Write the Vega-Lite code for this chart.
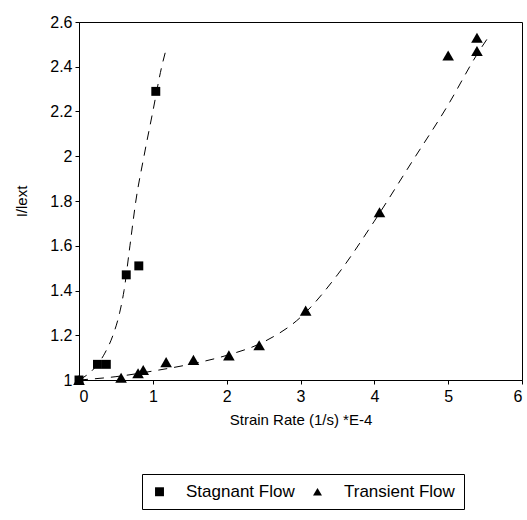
{
  "$schema": "https://vega.github.io/schema/vega-lite/v6.json",
  "width": 443,
  "height": 358,
  "autosize": {"type": "none"},
  "padding": {"left": 79, "top": 22, "right": 5, "bottom": 140},
  "background": "white",
  "config": {
    "font": "Liberation Sans",
    "view": {"stroke": "black", "strokeWidth": 1},
    "axis": {
      "domainColor": "black",
      "tickColor": "black",
      "labelColor": "black",
      "titleColor": "black",
      "labelFont": "Liberation Sans",
      "titleFont": "Liberation Sans",
      "labelFontSize": 16,
      "titleFontSize": 15,
      "titleFontWeight": "normal",
      "grid": false,
      "tickSize": 4
    },
    "legend": {
      "labelFont": "Liberation Sans",
      "labelFontSize": 17,
      "labelColor": "black"
    }
  },
  "datasets": {
    "obs": [
      {"series": "Stagnant Flow", "x": 0.0, "y": 1.0},
      {"series": "Stagnant Flow", "x": 0.25, "y": 1.07},
      {"series": "Stagnant Flow", "x": 0.37, "y": 1.07},
      {"series": "Stagnant Flow", "x": 0.64, "y": 1.47},
      {"series": "Stagnant Flow", "x": 0.81, "y": 1.51},
      {"series": "Stagnant Flow", "x": 1.04, "y": 2.29},
      {"series": "Transient Flow", "x": 0.0, "y": 1.0},
      {"series": "Transient Flow", "x": 0.57, "y": 1.01},
      {"series": "Transient Flow", "x": 0.8, "y": 1.03},
      {"series": "Transient Flow", "x": 0.87, "y": 1.045},
      {"series": "Transient Flow", "x": 1.18, "y": 1.08},
      {"series": "Transient Flow", "x": 1.55, "y": 1.09},
      {"series": "Transient Flow", "x": 2.03, "y": 1.11},
      {"series": "Transient Flow", "x": 2.44, "y": 1.155},
      {"series": "Transient Flow", "x": 3.07, "y": 1.31},
      {"series": "Transient Flow", "x": 4.07, "y": 1.75},
      {"series": "Transient Flow", "x": 5.0, "y": 2.45},
      {"series": "Transient Flow", "x": 5.39, "y": 2.53},
      {"series": "Transient Flow", "x": 5.39, "y": 2.47}
    ],
    "fit": [
      {"series": "Stagnant Flow", "x": 0.0, "y": 1.0},
      {"series": "Stagnant Flow", "x": 0.2, "y": 1.05},
      {"series": "Stagnant Flow", "x": 0.35, "y": 1.12},
      {"series": "Stagnant Flow", "x": 0.46, "y": 1.2},
      {"series": "Stagnant Flow", "x": 0.55, "y": 1.3},
      {"series": "Stagnant Flow", "x": 0.61, "y": 1.4},
      {"series": "Stagnant Flow", "x": 0.69, "y": 1.6},
      {"series": "Stagnant Flow", "x": 0.77, "y": 1.8},
      {"series": "Stagnant Flow", "x": 0.88, "y": 2.0},
      {"series": "Stagnant Flow", "x": 1.0, "y": 2.2},
      {"series": "Stagnant Flow", "x": 1.12, "y": 2.4},
      {"series": "Stagnant Flow", "x": 1.19, "y": 2.49},
      {"series": "Transient Flow", "x": 0.0, "y": 1.0},
      {"series": "Transient Flow", "x": 0.5, "y": 1.015},
      {"series": "Transient Flow", "x": 1.0, "y": 1.04},
      {"series": "Transient Flow", "x": 1.5, "y": 1.07},
      {"series": "Transient Flow", "x": 2.0, "y": 1.11},
      {"series": "Transient Flow", "x": 2.5, "y": 1.17},
      {"series": "Transient Flow", "x": 3.0, "y": 1.28},
      {"series": "Transient Flow", "x": 3.5, "y": 1.47},
      {"series": "Transient Flow", "x": 4.0, "y": 1.71},
      {"series": "Transient Flow", "x": 4.5, "y": 1.97},
      {"series": "Transient Flow", "x": 5.0, "y": 2.23},
      {"series": "Transient Flow", "x": 5.4, "y": 2.46},
      {"series": "Transient Flow", "x": 5.56, "y": 2.54}
    ]
  },
  "encoding": {
    "x": {
      "field": "x",
      "type": "quantitative",
      "scale": {"domain": [0, 6], "nice": false, "zero": false},
      "axis": {
        "title": "Strain Rate (1/s) *E-4",
        "values": [0, 1, 2, 3, 4, 5, 6],
        "format": "d",
        "labelPadding": 4,
        "titlePadding": 8
      }
    },
    "y": {
      "field": "y",
      "type": "quantitative",
      "scale": {"domain": [1, 2.6], "nice": false, "zero": false},
      "axis": {
        "title": "I/lext",
        "values": [1, 1.2, 1.4, 1.6, 1.8, 2, 2.2, 2.4, 2.6],
        "format": "~g",
        "labelPadding": 3,
        "titlePadding": 20
      }
    }
  },
  "layer": [
    {
      "data": {"name": "fit"},
      "mark": {"type": "line", "color": "black", "strokeWidth": 1, "strokeDash": [9, 7], "interpolate": "monotone", "clip": true},
      "encoding": {"detail": {"field": "series"}}
    },
    {
      "data": {"name": "obs"},
      "transform": [{"filter": "datum.series === 'Stagnant Flow'"}],
      "mark": {"type": "point", "filled": true, "color": "black", "opacity": 1, "size": 80},
      "encoding": {
        "shape": {"field": "series", "type": "nominal"}
      }
    },
    {
      "data": {"name": "obs"},
      "transform": [{"filter": "datum.series === 'Transient Flow'"}],
      "mark": {"type": "point", "filled": true, "color": "black", "opacity": 1, "size": 135},
      "encoding": {
        "shape": {
          "field": "series",
          "type": "nominal",
          "scale": {"domain": ["Stagnant Flow", "Transient Flow"], "range": ["square", "triangle-up"]},
          "legend": {
            "title": null,
            "orient": "none",
            "direction": "horizontal",
            "legendX": 63,
            "legendY": 452,
            "strokeColor": "black",
            "padding": 9,
            "symbolSize": 80,
            "symbolFillColor": "black",
            "symbolStrokeColor": "black",
            "symbolOpacity": 1,
            "labelOffset": 18,
            "columnPadding": 14
          }
        }
      }
    }
  ]
}
